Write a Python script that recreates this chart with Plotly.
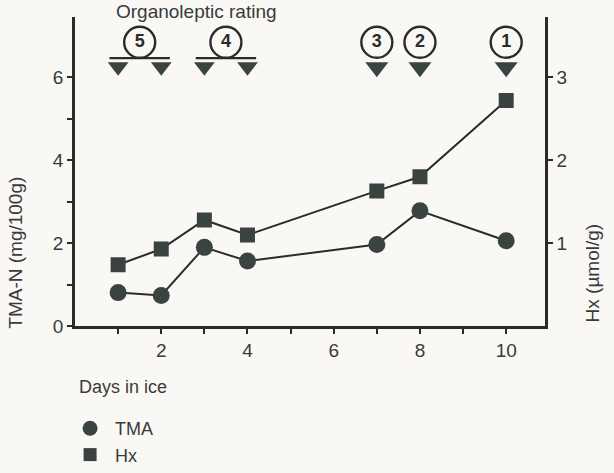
import plotly.graph_objects as go

# Storage time and measured spoilage indicators
days = [1, 2, 3, 4, 7, 8, 10]
tma_n = [0.81, 0.74, 1.90, 1.57, 1.97, 2.78, 2.06]      # mg/100g
hx = [0.74, 0.93, 1.28, 1.10, 1.63, 1.80, 2.72]         # umol/g

# Organoleptic rating and the sampling days it covers
rating_labels = ["5", "4", "3", "2", "1"]
rating_days = [[1, 2], [3, 4], [7], [8], [10]]

x_ticks = [1, 2, 3, 4, 5, 6, 7, 8, 9, 10]
x_ticktext = ["", "2", "", "4", "", "6", "", "8", "", "10"]
y_ticks = [0, 1, 2, 3, 4, 5, 6]
y_ticktext = ["0", "", "2", "", "4", "", "6"]
y2_ticks = [1, 2, 3]

INK = "#2b2b2b"
MARK = "#3b4340"
TEXT = "#3a3a3a"
BG = "#f9f8f4"
FONT = "Liberation Sans"

# vertical placement of the rating symbols (left-axis units)
CIRCLE_Y = 6.84
BAR_Y = 6.46
TRI_Y = 6.25
PIN_TRI_Y = 6.24
BAR_EXT = 0.2

fig = go.Figure()

# rating symbols along the top
for lab, ds in zip(rating_labels, rating_days):
    mid = sum(ds) / len(ds)
    if len(ds) > 1:
        fig.add_trace(go.Scatter(
            x=[ds[0] - BAR_EXT, ds[-1] + BAR_EXT], y=[BAR_Y, BAR_Y],
            mode="lines", line=dict(color=INK, width=2.2),
            showlegend=False, hoverinfo="skip"))
        fig.add_trace(go.Scatter(
            x=ds, y=[TRI_Y] * len(ds), mode="markers",
            marker=dict(symbol="triangle-down", size=18, color=MARK,
                        line=dict(width=0)),
            showlegend=False, hoverinfo="skip"))
    else:
        fig.add_trace(go.Scatter(
            x=ds, y=[PIN_TRI_Y], mode="markers",
            marker=dict(symbol="triangle-down", size=20, color=MARK,
                        line=dict(width=0)),
            showlegend=False, hoverinfo="skip"))
    fig.add_trace(go.Scatter(
        x=[mid], y=[CIRCLE_Y], mode="markers+text", text=[lab],
        textposition="middle center",
        textfont=dict(family=FONT, size=18, color=INK, weight="bold"),
        marker=dict(symbol="circle", size=31, color=BG,
                    line=dict(color=INK, width=2.4)),
        showlegend=False, hoverinfo="skip"))

# measured series
fig.add_trace(go.Scatter(
    x=days, y=tma_n, mode="lines+markers", name="TMA",
    line=dict(color=INK, width=2),
    marker=dict(symbol="circle", size=17, color=MARK),
    showlegend=False))
fig.add_trace(go.Scatter(
    x=days, y=hx, mode="lines+markers", name="Hx", yaxis="y2",
    line=dict(color=INK, width=2),
    marker=dict(symbol="square", size=15, color=MARK),
    showlegend=False))

# legend entries (symbols only)
fig.add_trace(go.Scatter(
    x=[None], y=[None], mode="markers", name="TMA",
    marker=dict(symbol="circle", size=15, color=MARK)))
fig.add_trace(go.Scatter(
    x=[None], y=[None], mode="markers", name="Hx",
    marker=dict(symbol="square", size=13, color=MARK)))

axis_common = dict(
    showline=True, linecolor=INK, linewidth=2.5,
    ticks="outside", ticklen=5, tickwidth=2, tickcolor=INK,
    showgrid=False, zeroline=False,
    tickfont=dict(family=FONT, size=19, color=TEXT),
)

fig.update_layout(
    width=614, height=473,
    margin=dict(l=0, r=0, t=0, b=0),
    paper_bgcolor=BG, plot_bgcolor=BG,
    font=dict(family=FONT, color=TEXT),
    xaxis=dict(domain=[75 / 614, 545 / 614], range=[0, 10.9],
               tickvals=x_ticks, ticktext=x_ticktext, anchor="y",
               **axis_common),
    yaxis=dict(domain=[(473 - 346) / 473, (473 - 18) / 473],
               range=[0, 7.45],
               tickvals=y_ticks, ticktext=y_ticktext, anchor="x",
               **axis_common),
    yaxis2=dict(range=[0, 3.725], overlaying="y", side="right",
                tickvals=y2_ticks, anchor="x", **axis_common),
    legend=dict(x=0.106, y=0.080, xanchor="left", yanchor="top",
                bgcolor="rgba(0,0,0,0)", tracegroupgap=0,
                itemwidth=40,
                font=dict(family=FONT, size=18, color=TEXT)),
    annotations=[
        dict(text="Organoleptic rating", xref="paper", yref="paper",
             x=114 / 614, y=(473 - 12) / 473, xanchor="left",
             yanchor="middle", showarrow=False,
             font=dict(family=FONT, size=19, color=TEXT)),
        dict(text="Days in ice", xref="paper", yref="paper",
             x=77 / 614, y=(473 - 410) / 473, xanchor="left",
             yanchor="middle", showarrow=False,
             font=dict(family=FONT, size=18, color=TEXT)),
        dict(text="TMA-N (mg/100g)", xref="paper", yref="paper",
             x=16 / 614, y=(473 - 268) / 473, textangle=-90,
             xanchor="center", yanchor="middle", showarrow=False,
             font=dict(family=FONT, size=19, color=TEXT)),
        dict(text="Hx (µmol/g)", xref="paper", yref="paper",
             x=592 / 614, y=(473 - 290) / 473, textangle=-90,
             xanchor="center", yanchor="middle", showarrow=False,
             font=dict(family=FONT, size=19, color=TEXT)),
    ],
)

fig.write_html("out.html")
